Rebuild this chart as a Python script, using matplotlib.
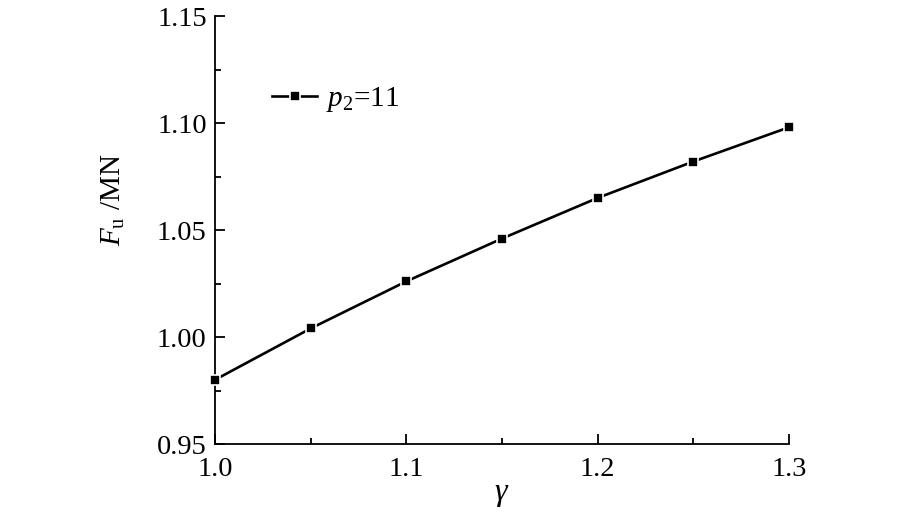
import matplotlib.pyplot as plt
from matplotlib.ticker import MultipleLocator

# ===== Data =====
gamma = [1.00, 1.05, 1.10, 1.15, 1.20, 1.25, 1.30]
fu = [0.980, 1.004, 1.026, 1.046, 1.065, 1.082, 1.098]

plt.rcParams["font.family"] = ["Liberation Serif", "DejaVu Serif"]
plt.rcParams["mathtext.fontset"] = "custom"
plt.rcParams["mathtext.rm"] = "Liberation Serif"
plt.rcParams["mathtext.it"] = "Liberation Serif:italic"

fig = plt.figure(figsize=(9, 5.12), dpi=100)
ax = fig.add_axes([0.2389, 0.1328, 0.8767 - 0.2389, 0.96875 - 0.1328])

ax.plot(gamma, fu, color="black", linewidth=1.9, marker="s", markersize=7.5,
        markerfacecolor="black", markeredgecolor="white", markeredgewidth=1.2,
        label=r"$p_2$=11", clip_on=False, zorder=3)

ax.set_xlim(1.0, 1.3)
ax.set_ylim(0.95, 1.15)
ax.xaxis.set_major_locator(MultipleLocator(0.1))
ax.xaxis.set_minor_locator(MultipleLocator(0.05))
ax.yaxis.set_major_locator(MultipleLocator(0.05))
ax.yaxis.set_minor_locator(MultipleLocator(0.025))
ax.xaxis.set_major_formatter(plt.FuncFormatter(lambda v, p: f"{v:.1f}"))
ax.yaxis.set_major_formatter(plt.FuncFormatter(lambda v, p: f"{v:.2f}"))

for side in ("top", "right"):
    ax.spines[side].set_visible(False)
for side in ("left", "bottom"):
    ax.spines[side].set_linewidth(1.3)

ax.tick_params(which="major", direction="in", length=7, width=1.3, labelsize=20.5)
ax.tick_params(axis="x", which="major", pad=9)
ax.tick_params(axis="y", which="major", pad=6)
ax.tick_params(which="minor", direction="in", length=4, width=1.3)

ax.set_xlabel(r"$\gamma$", fontsize=23)
ax.xaxis.set_label_coords(0.5, -0.085)
ax.set_ylabel(r"$F_{\mathrm{u}}$ /MN", fontsize=21)
ax.yaxis.set_label_coords(-0.153, 0.57)

leg = ax.legend(loc="upper left", bbox_to_anchor=(0.079, 0.865), frameon=False,
                fontsize=21, handlelength=1.55, handletextpad=0.3, borderaxespad=0)

fig.savefig("out.png", dpi=100)
